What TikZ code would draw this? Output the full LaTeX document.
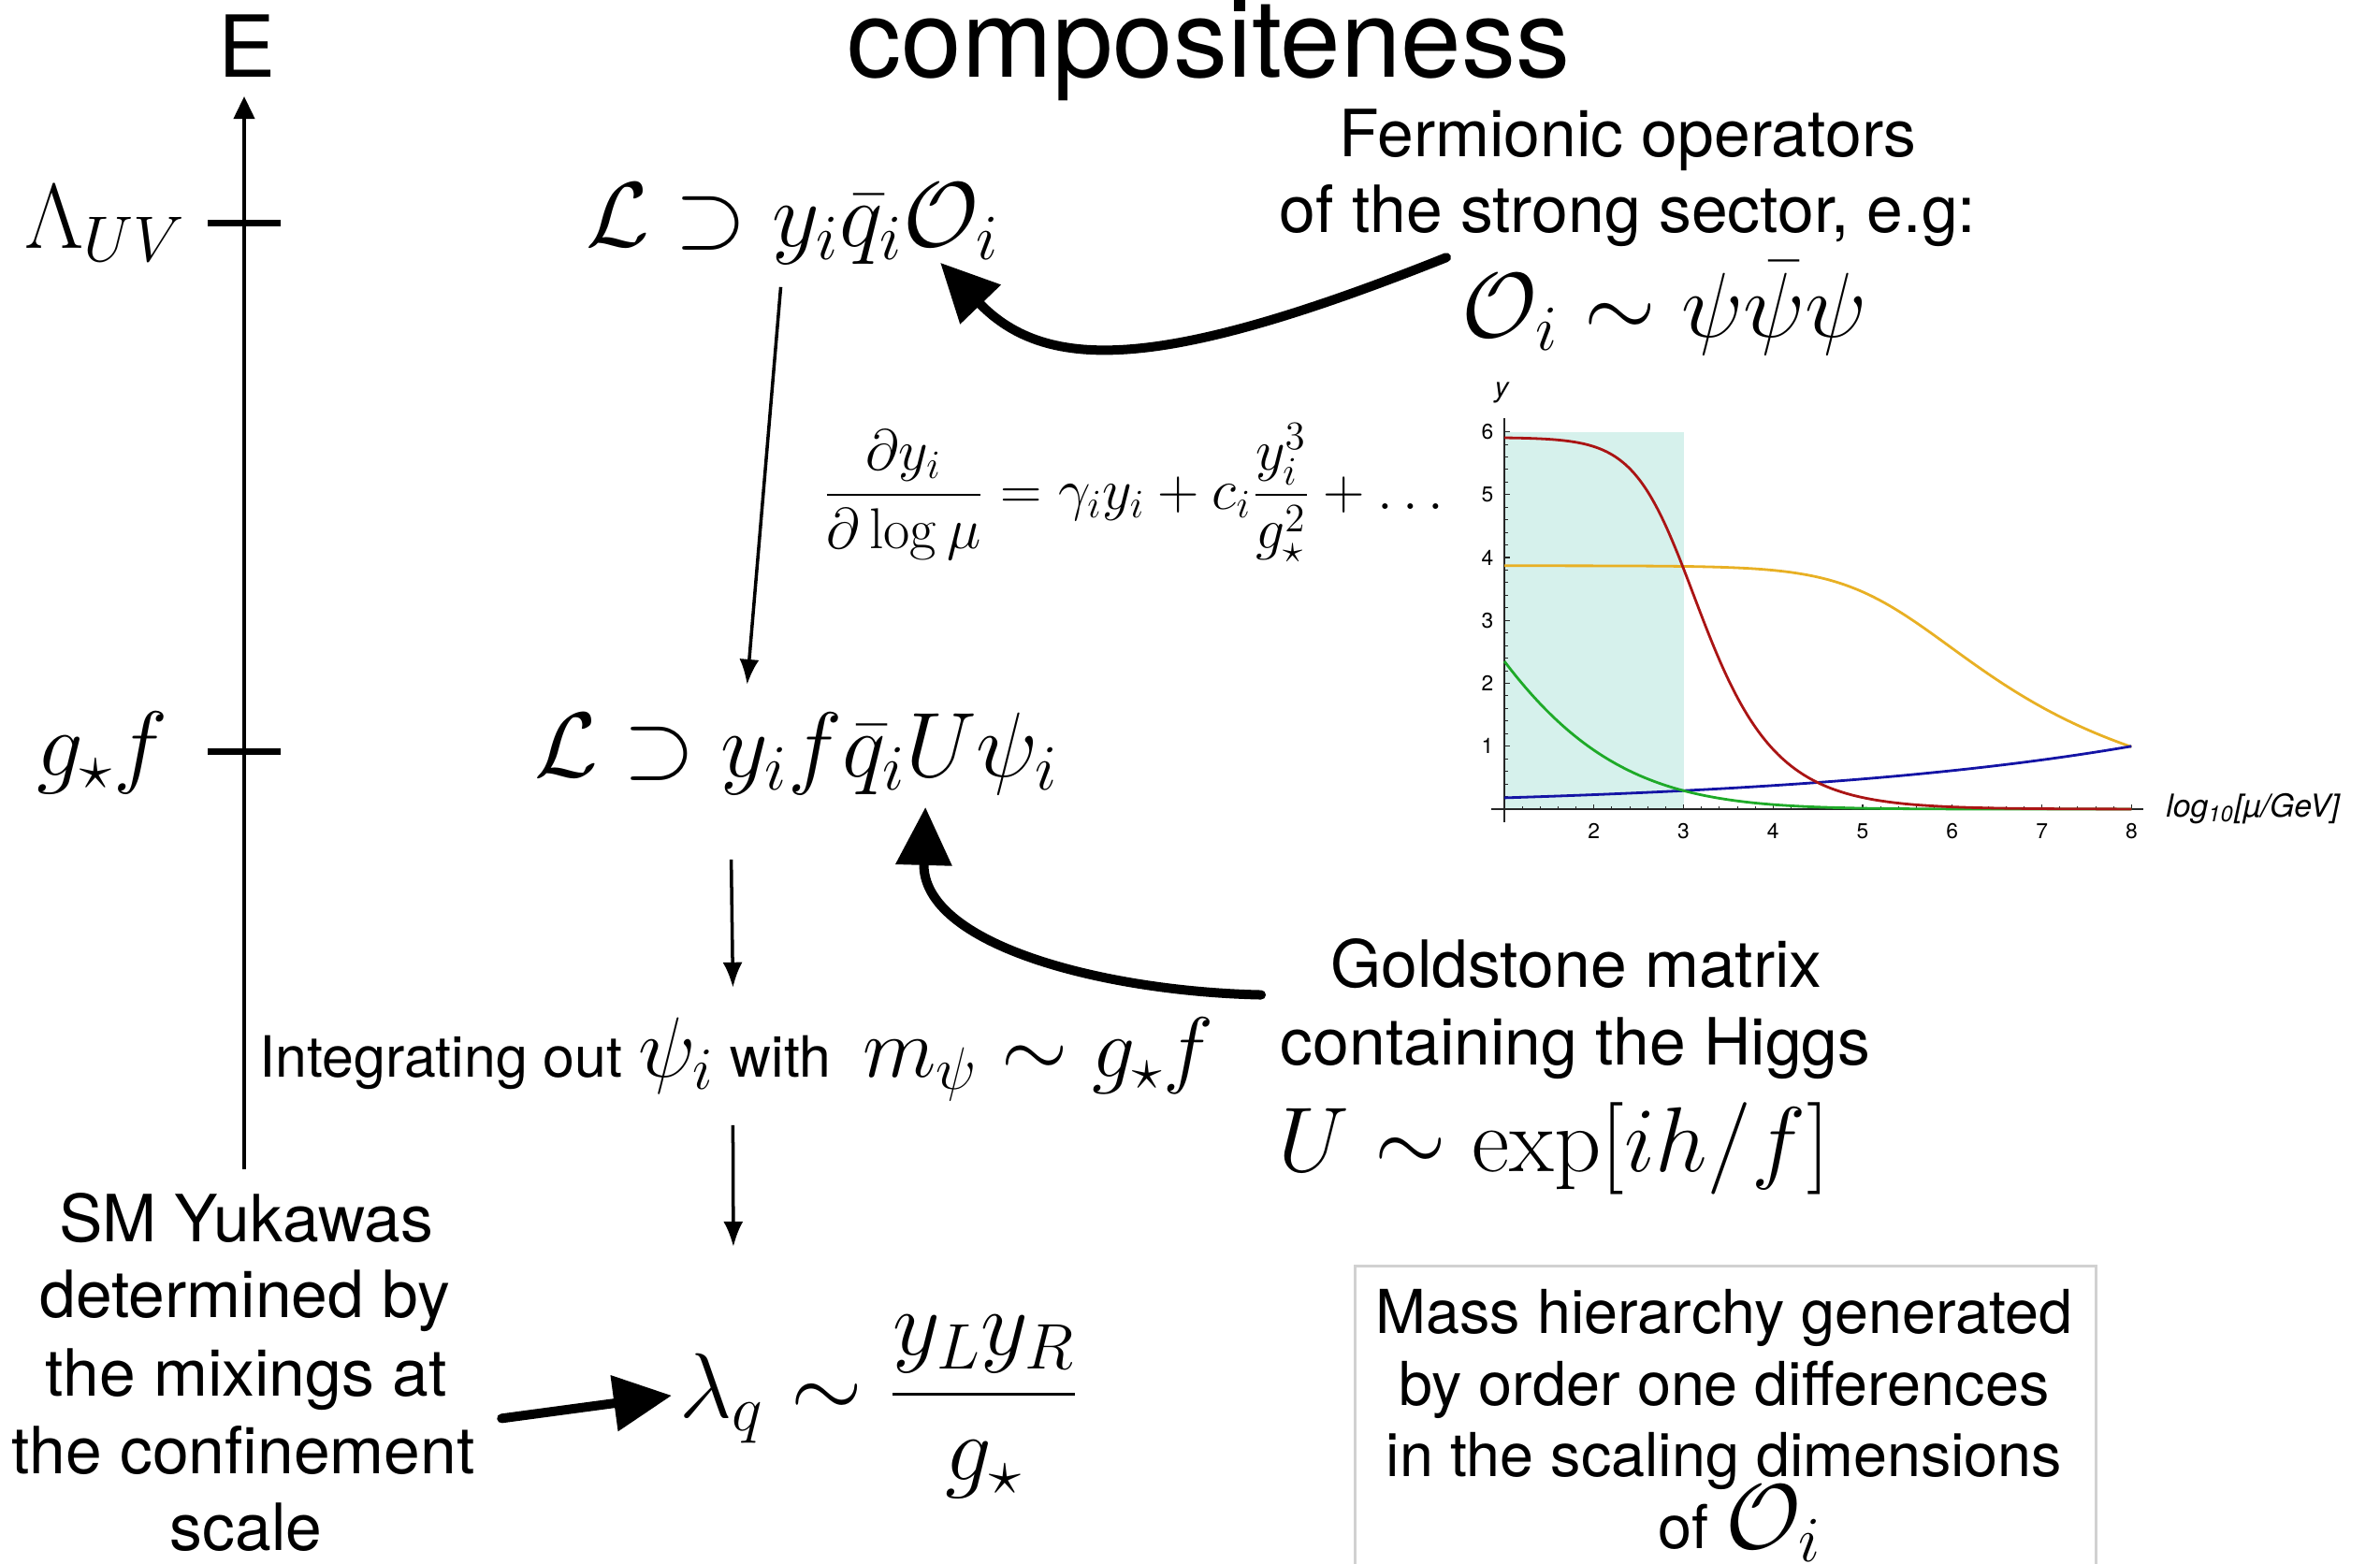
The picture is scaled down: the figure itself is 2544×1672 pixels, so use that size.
\RequirePackage{fix-cm}
\documentclass[tikz,border=0pt]{standalone}
\usepackage{amsmath}
\usepackage[no-math]{fontspec}
\setmainfont{TeX Gyre Heros}
\usetikzlibrary{arrows.meta}
\newcommand\bigmath{\fontsize{28}{32}\selectfont}
\newcommand\midmath{\fontsize{26}{30}\selectfont}
\definecolor{shadecol}{RGB}{214,241,236}
\definecolor{cred}{RGB}{170,20,20}
\definecolor{cyel}{RGB}{232,176,36}
\definecolor{cgrn}{RGB}{30,170,40}
\definecolor{cblu}{RGB}{20,20,165}
\begin{document}
\begin{tikzpicture}[x=0.01cm,y=-0.01cm,
  lbl/.style={inner sep=0pt, font=\fontsize{19.8}{23.5}\selectfont},
  lbltwo/.style={inner sep=0pt, font=\fontsize{17.3}{21}\selectfont},
  boxt/.style={inner sep=0pt, font=\fontsize{18.4}{22}\selectfont},
  mth/.style={inner sep=0pt, font=\bigmath},
  thinarr/.style={line width=0.035cm, -{Latex[length=0.27cm,width=0.21cm]}},
  axisarr/.style={line width=0.04cm, -{Triangle[length=0.24cm,width=0.22cm]}},
  handarr/.style={line width=0.1cm, line cap=round, -{Triangle[length=0.62cm,width=0.58cm]}},
  tickmark/.style={line width=0.07cm},
  plotline/.style={line width=0.028cm},
  ticklbl/.style={inner sep=0pt, font=\fontsize{6.5}{7.5}\selectfont}
  ]
\useasboundingbox (0,0) rectangle (2544,1672);
\clip (0,0) rectangle (2544,1672);

% title and axis
\node[inner sep=0pt, anchor=base, font=\fontsize{33}{38}\selectfont] (title) at (1292,82) {compositeness};
\node[inner sep=0pt, anchor=base, font=\fontsize{26}{30}\selectfont] (E) at (264,82) {E};
\coordinate (axbot) at (261,1250);
\coordinate (axtop) at (261,103);
\draw[axisarr] (axbot) -- (axtop);
\draw[tickmark] (222,238) -- (300,238);
\draw[tickmark] (222,803) -- (300,803);
\node[mth, anchor=base east] (lamUV) at (199,265) {$\Lambda_{UV}$};
\node[mth, anchor=base east] (gsf) at (180,829) {$g_\star f$};

% lagrangians
\node[mth, anchor=base west] (L1) at (626,263) {$\mathcal{L}\supset y_i\bar q_i\mathcal{O}_i$};
\node[mth, anchor=base west] (L2) at (571,830) {$\mathcal{L}\supset y_i f\bar q_i U\psi_i$};

% RG equation
\node[inner sep=0pt, anchor=west, font=\fontsize{17.5}{21}\selectfont] (rg) at (879,527)
  {$\displaystyle\frac{\partial y_i}{\partial\log\mu}=\gamma_i y_i+c_i\frac{y_i^3}{g_\star^2}+\dots$};

% Fermionic operators
\node[lbl, anchor=base] (ferm1) at (1740,167) {Fermionic operators};
\node[lbl, anchor=base] (ferm2) at (1740,248) {of the strong sector, e.g:};
\node[mth, anchor=base west] (opsi) at (1562,360) {$\mathcal{O}_i\sim\psi\bar\psi\psi$};

% Goldstone
\node[lbl, anchor=base] (gold1) at (1685,1055) {Goldstone matrix};
\node[lbl, anchor=base] (gold2) at (1684,1138) {containing the Higgs};
\node[mth, anchor=base west] (uexp) at (1366,1252) {$U\sim\exp[ih/f]$};

% integrating out
\node[lbltwo, anchor=base west] (integ) at (277,1151)
  {Integrating out {\midmath$\psi_i$} with\ \ {\midmath$m_\psi\sim g_\star f$}};

% SM Yukawas
\node[lbl, anchor=base] (sm1) at (263,1327) {SM Yukawas};
\node[lbl, anchor=base] (sm2) at (262,1408) {determined by};
\node[lbl, anchor=base] (sm3) at (263,1492) {the mixings at};
\node[lbl, anchor=base] (sm4) at (260,1575) {the confinement};
\node[lbl, anchor=base] (sm5) at (263,1657) {scale};

% lambda_q
\node[mth, anchor=base west] (lamq) at (726,1515) {$\lambda_q$};
\node[mth, anchor=base west] (lamfrac) at (lamq.base east) {${}\sim\dfrac{y_L y_R}{g_\star}$};

% box
\draw[draw=black!18, line width=0.03cm] (1448,1353) rectangle (2240,1720);
\node[boxt, anchor=base] (mass1) at (1843,1425) {Mass hierarchy generated};
\node[boxt, anchor=base] (mass2) at (1843,1502) {by order one differences};
\node[boxt, anchor=base] (mass3) at (1843,1578) {in the scaling dimensions};
\node[boxt, anchor=base] (mass4) at (1860,1655) {of {\bigmath$\mathcal{O}_i$}};

% connectors
\draw[thinarr] ([shift={(-13,24)}]L1.south) -- ([shift={(-53,-29)}]L2.north);
\draw[thinarr] ([shift={(-70,69)}]L2.south) -- ([shift={(-4,-31)}]integ.north);
\draw[thinarr] ([shift={(-4,25)}]integ.south) -- ([shift={(12,-113)}]lamq.north);

\draw[handarr] ([shift={(-16,-3)}]opsi.north west) .. controls (1246,395) and (1120,400) .. ([shift={(-64,-2)}]L1.south east);
\draw[handarr] ([shift={(-20,-23)}]gold2.north west) .. controls (1180,1060) and (985,1010) .. ([shift={(-143,13)}]L2.south east);
\draw[handarr] ([shift={(28,-7)}]sm4.north east) -- ([shift={(-8,-3)}]lamq.west);

% plot
\begin{scope}[shift={(1512.3,865)}]
\begin{scope}[x=0.957cm,y=0.672cm]
  \fill[shadecol] (1,0) rectangle (3,6);
  \draw[black!85, line width=0.015cm] (0.85,0) -- (8.13,0);
  \draw[black!85, line width=0.015cm] (1,-0.21) -- (1,6.21);
  \foreach \k in {2,...,8} \draw[black!85, line width=0.012cm] (\k,0) -- (\k,0.075);
  \foreach \k in {1.2,1.4,...,7.9} \draw[black!85, line width=0.01cm] (\k,0) -- (\k,0.045);
  \foreach \k in {1,...,6} \draw[black!85, line width=0.012cm] (1,\k) -- (1.065,\k);
  \foreach \k in {0.2,0.4,...,6.1} \draw[black!85, line width=0.01cm] (1,\k) -- (1.04,\k);
  \foreach \k in {2,...,8} \node[ticklbl, anchor=north] at ([yshift=-0.15cm]\k,0) {\k};
  \foreach \k in {1,...,6} \node[ticklbl, anchor=east] at ([xshift=-0.11cm]1,\k) {\k};
  \node[inner sep=0pt, font=\fontsize{8.5}{9}\selectfont\itshape] (ylab) at (0.97,6.62) {y};
  \node[inner sep=0pt, anchor=base west, font=\fontsize{9.6}{11}\selectfont\itshape] (xlab) at (8.38,-0.12) {log\textsubscript{10}[µ/GeV]};
  \draw[cyel, plotline] plot[domain=1:8, samples=90, smooth] (\x, {3.87/sqrt(sqrt(1+exp(2*\x-10.551)))});
  \draw[cblu, plotline] plot[domain=1:8, samples=40, smooth] (\x, {0.18*exp(0.245*(\x-1))});
  \draw[cgrn, plotline] plot[domain=1:8, samples=90, smooth] (\x, {2.35*exp(-0.8*(\x-1)-0.12*(\x-1)*(\x-1))});
  \draw[cred, plotline] plot[domain=1:8, samples=120, smooth] (\x, {5.91*exp(-1.65*(\x-2.9))/sqrt(1+exp(-3.3*(\x-2.9)))});
\end{scope}
\end{scope}
\end{tikzpicture}
\end{document}
